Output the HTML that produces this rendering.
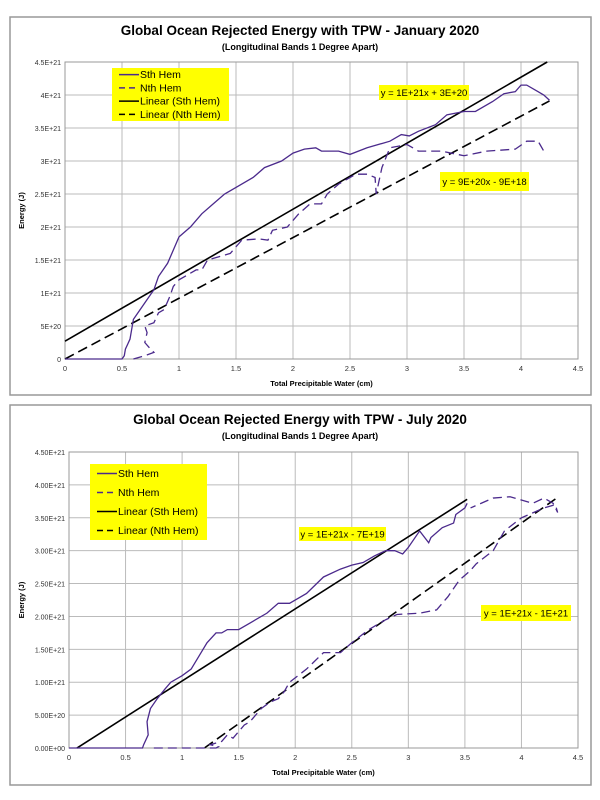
<!DOCTYPE html>
<html><head><meta charset="utf-8"><style>
body{margin:0;background:#fff;font-family:"Liberation Sans",sans-serif}
svg{display:block}
</style></head><body>
<svg id="s" width="600" height="800"></svg>
<script>
const xTicks=[0,0.5,1,1.5,2,2.5,3,3.5,4,4.5];
const yTicksTop=["0","5E+20","1E+21","1.5E+21","2E+21","2.5E+21","3E+21","3.5E+21","4E+21","4.5E+21"];
const yTicksBot=["0.00E+00","5.00E+20","1.00E+21","1.50E+21","2.00E+21","2.50E+21","3.00E+21","3.50E+21","4.00E+21","4.50E+21"];
const janSthX=[0,0.5,0.52,0.53,0.57,0.6,0.7,0.78,0.82,0.9,1.0,1.1,1.2,1.3,1.4,1.5,1.65,1.75,1.9,2.0,2.1,2.2,2.25,2.4,2.5,2.65,2.85,2.95,3.02,3.1,3.25,3.35,3.5,3.6,3.75,3.85,3.95,4.0,4.05,4.15,4.2,4.25];
const janSthY=[0,0,0.05,0.15,0.3,0.6,0.85,1.05,1.25,1.45,1.85,2.0,2.2,2.35,2.5,2.6,2.75,2.9,3.0,3.12,3.18,3.2,3.15,3.15,3.1,3.2,3.3,3.4,3.38,3.45,3.55,3.7,3.75,3.75,3.9,4.02,4.05,4.15,4.15,4.05,4.0,3.92];
const janNthX=[0.6,0.7,0.78,0.75,0.7,0.72,0.7,0.78,0.82,0.87,0.92,0.95,1.0,1.1,1.15,1.2,1.25,1.35,1.45,1.55,1.7,1.78,1.82,1.95,2.05,2.15,2.25,2.3,2.4,2.55,2.65,2.72,2.73,2.78,2.85,3.0,3.1,3.3,3.5,3.7,3.95,4.05,4.15,4.2];
const janNthY=[0,0.05,0.1,0.15,0.25,0.4,0.5,0.55,0.7,0.75,0.95,1.1,1.2,1.3,1.35,1.35,1.5,1.55,1.6,1.8,1.82,1.8,1.95,2.0,2.2,2.35,2.35,2.5,2.65,2.8,2.8,2.75,2.5,2.9,3.2,3.25,3.15,3.15,3.08,3.15,3.18,3.3,3.3,3.15];
const janFitS=[1.0,0.27,0,4.23];
const janFitN=[0.92,0,0,4.25];
const julSthX=[0,0.65,0.66,0.7,0.69,0.72,0.78,0.85,0.9,1.0,1.08,1.15,1.22,1.3,1.35,1.4,1.5,1.6,1.75,1.85,1.95,2.1,2.25,2.4,2.5,2.6,2.7,2.8,2.88,2.95,3.0,3.1,3.18,3.2,3.3,3.4,3.42,3.5,3.52];
const julSthY=[0,0,0.05,0.2,0.4,0.6,0.75,0.9,1.0,1.1,1.2,1.4,1.6,1.75,1.75,1.8,1.8,1.9,2.05,2.2,2.2,2.35,2.6,2.72,2.78,2.82,2.92,3.0,3.0,2.95,3.05,3.3,3.12,3.2,3.35,3.42,3.55,3.65,3.72];
const julNthX=[0.75,1.3,1.32,1.25,1.35,1.4,1.45,1.5,1.55,1.6,1.7,1.78,1.85,1.9,1.95,2.1,2.25,2.4,2.5,2.65,2.8,2.9,3.1,3.25,3.35,3.45,3.55,3.6,3.75,3.85,4.0,4.2,4.3,4.32,4.28,4.2,4.1,3.9,3.75,3.55];
const julNthY=[0,0,0.02,0.05,0.1,0.2,0.15,0.25,0.35,0.4,0.6,0.7,0.75,0.85,1.0,1.2,1.45,1.45,1.6,1.8,1.95,2.03,2.05,2.1,2.3,2.55,2.7,2.8,3.0,3.3,3.5,3.65,3.7,3.58,3.72,3.8,3.72,3.82,3.8,3.65];
const julFitS=[1.096,-0.077,0.07,3.52];
const julFitN=[1.22,-1.46,1.2,4.3];
const NS="http://www.w3.org/2000/svg",S=document.getElementById('s');
function mk(t,a,p){const e=document.createElementNS(NS,t);for(const k in a)e.setAttribute(k,a[k]);(p||S).appendChild(e);return e;}
function chart(c){
 const g=mk('g',{});
 
 
 const fr=mk('rect',{x:10,y:c.fy,width:581,height:c.fh,fill:'none',stroke:'#999','stroke-width':1.5},g);
 
 const X=v=>c.x0+(c.x1-c.x0)*v/4.5, Y=v=>c.y0-(c.y0-c.y1)*v/4.5;
 xTicks.forEach(v=>{mk('line',{x1:X(v),x2:X(v),y1:c.y1,y2:c.y0,stroke:'#bbb','stroke-width':1},g);
  const t=mk('text',{x:X(v),y:c.y0+12,'font-size':7.5,'text-anchor':'middle',fill:'#333'},g);t.textContent=v;
  });
 c.yl.forEach((l,i)=>{mk('line',{x1:c.x0,x2:c.x1,y1:Y(i*0.5),y2:Y(i*0.5),stroke:'#bbb','stroke-width':1},g);
  const t=mk('text',{x:c.x0-4,y:Y(i*0.5)+3,'font-size':7,'text-anchor':'end',fill:'#333'},g);t.textContent=l;
  });
 mk('rect',{x:c.x0,y:c.y1,width:c.x1-c.x0,height:c.y0-c.y1,fill:'none',stroke:'#999'},g);
 let t=mk('text',{x:300,y:c.ty,'font-size':13.5,'font-weight':'bold','text-anchor':'middle'},g);t.textContent=c.title;
 
 t=mk('text',{x:300,y:c.ty+15,'font-size':9,'font-weight':'bold','text-anchor':'middle'},g);t.textContent='(Longitudinal Bands 1 Degree Apart)';
 
 t=mk('text',{x:(c.x0+c.x1)/2,y:c.y0+27,'font-size':7.5,'font-weight':'bold','text-anchor':'middle'},g);t.textContent='Total Precipitable Water (cm)';
 
 const ym=(c.y0+c.y1)/2;
 t=mk('text',{x:24,y:ym,'font-size':7.5,'font-weight':'bold','text-anchor':'middle',transform:`rotate(-90 24 ${ym})`},g);t.textContent=c.ylab;
 
 [[c.fs,'trend-sth',null],[c.fn,'trend-nth','10 5']].forEach(([f,n,d])=>{
  const l=mk('line',{x1:X(f[2]),y1:Y(f[0]*f[2]+f[1]),x2:X(f[3]),y2:Y(f[0]*f[3]+f[1]),stroke:'#000','stroke-width':1.6},g);
  if(d)l.setAttribute('stroke-dasharray',d);
  });
 [[c.sx,c.sy,'series-sth-hem',null],[c.nx,c.ny,'series-nth-hem','9 5']].forEach(([xs,ys,n,d])=>{
  const p=mk('polyline',{points:xs.map((v,i)=>X(v)+','+Y(ys[i])).join(' '),fill:'none',stroke:'#4b2a8c','stroke-width':1.3},g);
  if(d)p.setAttribute('stroke-dasharray',d);
  });
 const L=c.leg, lg=mk('g',{},g);
 
 mk('rect',{x:L[0],y:L[1],width:L[2],height:L[3],fill:'#ffff00'},lg);
 const items=[['Sth Hem','#4b2a8c',null],['Nth Hem','#4b2a8c','6 4'],['Linear (Sth Hem)','#000',null],['Linear (Nth Hem)','#000','6 4']];
 items.forEach((it,i)=>{const yy=L[1]+L[3]*(i+0.5)/4;
  const ln=mk('line',{x1:L[0]+7,x2:L[0]+27,y1:yy,y2:yy,stroke:it[1],'stroke-width':1.6},lg);if(it[2])ln.setAttribute('stroke-dasharray',it[2]);
  const tt=mk('text',{x:L[0]+28,y:yy+3.5,'font-size':10.5},lg);tt.textContent=it[0];
  });
 c.eq.forEach(e=>{mk('rect',{x:e[0],y:e[1],width:e[2],height:e[3],fill:'#ffff00'},g);
  const tt=mk('text',{x:e[0]+e[2]/2,y:e[1]+e[3]/2+3.5,'font-size':9.5,'text-anchor':'middle'},g);tt.textContent=e[4];
  });
}
chart({name:'january-chart',fy:17,fh:378,ty:35,x0:65,x1:578,y0:359,y1:62,yl:yTicksTop,ylab:'Energy (J)',title:'Global Ocean Rejected Energy with TPW - January 2020',
 sx:janSthX,sy:janSthY,nx:janNthX,ny:janNthY,fs:janFitS,fn:janFitN,leg:[112,68,117,53],
 eq:[[379,85,90,15,'y = 1E+21x + 3E+20'],[440,172,89,19,'y = 9E+20x - 9E+18']]});
chart({name:'july-chart',fy:405,fh:380,ty:424,x0:69,x1:578,y0:748,y1:452,yl:yTicksBot,ylab:'Energy (J)',title:'Global Ocean Rejected Energy with TPW - July 2020',
 sx:julSthX,sy:julSthY,nx:julNthX,ny:julNthY,fs:julFitS,fn:julFitN,leg:[90,464,117,76],
 eq:[[299,527,87,14,'y = 1E+21x - 7E+19'],[481,605,90,16,'y = 1E+21x - 1E+21']]});
</script>
</body></html>
